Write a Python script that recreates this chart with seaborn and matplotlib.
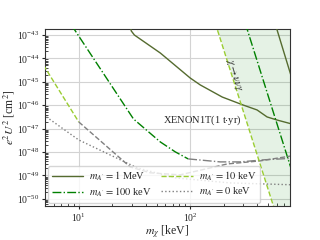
import numpy as np
import pandas as pd
import matplotlib
matplotlib.use("Agg")
import matplotlib.pyplot as plt
import seaborn as sns

# ---------------- data ----------------
# m_A' = 1 MeV (solid olive)
mev1_x = [28.7, 29.6, 31.6, 54.0, 100, 123, 194, 299, 398, 490, 601, 818]
mev1_y = [4.4e-43, 1.5e-43, 1.0e-43, 1.7e-44, 1.46e-45, 7.4e-46, 2.24e-46,
          1.02e-46, 6.3e-47, 3.16e-47, 2.34e-47, 1.58e-47]
mev1_decay_x = [577, 968]
mev1_decay_y = [3.2e-43, 1.0e-46]

# m_A' = 100 keV (green dash-dot), grey where m_chi > m_A'
kev100_x = [8.6, 31.0, 54.0, 73.5, 95.9]
kev100_y = [2.7e-43, 2.6e-47, 2.7e-48, 1.02e-48, 5.1e-49]
kev100_grey_x = [95.9, 186, 281, 470, 818]
kev100_grey_y = [5.1e-49, 3.8e-49, 3.8e-49, 4.7e-49, 5.4e-49]
kev100_decay_x = [312, 1057]
kev100_decay_y = [3.2e-43, 3.2e-51]

# m_A' = 10 keV (yellowgreen dashed), grey where m_chi > m_A'
kev10_x = [4.83, 10.0]
kev10_y = [5.2e-45, 1.95e-47]
kev10_grey_x = [10.0, 29.0, 43.9, 81.0, 151, 215, 425, 818]
kev10_grey_y = [1.95e-47, 2.3e-49, 1.3e-49, 1.06e-49, 2.1e-49, 3.1e-49, 4.2e-49, 6.9e-49]
kev10_decay_x = [168, 575]
kev10_decay_y = [3.2e-43, 3.2e-51]

# m_A' = 0 keV (grey dotted)
kev0_x = [4.83, 10.0, 33.6, 73.5, 228, 818]
kev0_y = [3.9e-47, 3.3e-48, 2.1e-49, 7.9e-50, 4.8e-50, 4.0e-50]

labels = [r"$m_{A'} = 1$ MeV", r"$m_{A'} = 100$ keV",
          r"$m_{A'} = 10$ keV", r"$m_{A'} = 0$ keV"]

# ---------------- style ----------------
sns.set_style("ticks")
plt.rcParams["font.family"] = ["serif"]
plt.rcParams["font.serif"] = ["Liberation Serif", "DejaVu Serif"]
plt.rcParams["mathtext.fontset"] = "stix"

c_mev = "#556b2f"
c_100 = "#008000"
c_10 = "#9acd32"
c_grey = "grey"
lw = 1.0

fig = plt.figure(figsize=(3.2, 2.4), dpi=100)
ax = fig.add_axes([0.141, 0.142, 0.765, 0.737])

def seg(x, y, color, ls, label=None, zorder=3):
    df = pd.DataFrame({"x": x, "y": y})
    sns.lineplot(data=df, x="x", y="y", ax=ax, color=color, linestyle=ls,
                 linewidth=lw, label=label, sort=False, estimator=None,
                 zorder=zorder)

ax.set_xscale("log")
ax.set_yscale("log")

# shaded decay region right of the 10 keV decay line
yy = np.array(kev10_decay_y)
ax.fill_betweenx(yy, kev10_decay_x, [2000, 2000], color="green",
                 alpha=0.1, linewidth=0, zorder=1)

seg(mev1_x, mev1_y, c_mev, "-", labels[0])
seg(mev1_decay_x, mev1_decay_y, c_mev, "-")
seg(kev100_x, kev100_y, c_100, "-.", labels[1])
seg(kev100_grey_x, kev100_grey_y, c_grey, "-.")
seg(kev100_decay_x, kev100_decay_y, c_100, "-.")
seg(kev10_x, kev10_y, c_10, "--", labels[2])
seg(kev10_grey_x, kev10_grey_y, c_grey, "--")
seg(kev10_decay_x, kev10_decay_y, c_10, "--")
seg(kev0_x, kev0_y, c_grey, ":", labels[3])

ax.set_xlim(5, 785)
ax.set_ylim(5e-51, 1.8e-43)

ax.set_yticks([10.0**k for k in range(-50, -42)])
ax.grid(True, which="major", color="#d3d3d3", linewidth=0.8, zorder=0)
ax.tick_params(which="major", direction="out", length=2.5, labelsize=7, pad=1.5)
ax.tick_params(which="minor", direction="in", length=2)
for s in ax.spines.values():
    s.set_color("#333333")
    s.set_linewidth(0.8)

ax.set_xlabel(r"$m_\chi$ [keV]", fontsize=8.5, labelpad=0)
ax.set_ylabel(r"$e^2U^2$ [cm$^2$]", fontsize=8.5, labelpad=0)

ax.text(57.5, 2.2e-47, r"XENON1T(1 t$\cdot$yr)", fontsize=7.5,
        ha="left", va="center", zorder=4)
ax.text(244, 2.0e-45, r"$\chi\to\nu\nu\gamma$", fontsize=7.5,
        rotation=-73, ha="center", va="center", zorder=4)

leg = ax.legend(loc="lower left", bbox_to_anchor=(0.0, 0.0), ncol=2,
                fontsize=7.5, handlelength=3.0, columnspacing=0.9,
                labelspacing=0.25, borderpad=0.35, handletextpad=0.6,
                borderaxespad=0.3, frameon=True, framealpha=0.8)

fig.savefig("out.png", dpi=100)
